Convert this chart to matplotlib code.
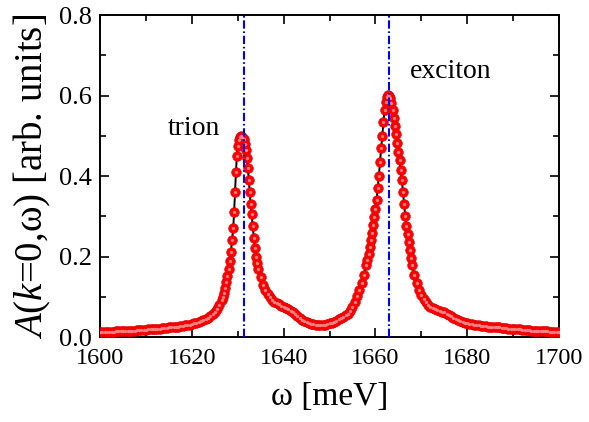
import matplotlib
matplotlib.use("Agg")
import matplotlib.pyplot as plt
from matplotlib.ticker import MultipleLocator, FormatStrFormatter

plt.rcParams["font.family"] = ["Liberation Serif", "DejaVu Serif"]
plt.rcParams["mathtext.fontset"] = "custom"
plt.rcParams["mathtext.rm"] = "Liberation Serif"
plt.rcParams["mathtext.it"] = "Liberation Serif:italic"

# spectral function (omega in meV, A in arb. units)
omega = [
    1600, 1600.5, 1601, 1601.5, 1602, 1602.5, 1603, 1603.5, 1604, 1604.5,
    1605, 1605.5, 1606, 1606.5, 1607, 1607.5, 1608, 1608.5, 1609, 1609.5,
    1610, 1610.5, 1611, 1611.5, 1612, 1612.5, 1613, 1613.5, 1614, 1614.5,
    1615, 1615.5, 1616, 1616.5, 1617, 1617.5, 1618, 1618.5, 1619, 1619.5,
    1620, 1620.5, 1621, 1621.5, 1622, 1622.5, 1623, 1623.5, 1624, 1624.5,
    1625, 1625.5, 1626, 1626.5, 1626.75,
    1627.0, 1627.25, 1627.5, 1627.75, 1628.0, 1628.25, 1628.5, 1628.75,
    1629.0, 1629.2, 1629.4, 1629.6, 1629.8, 1630.0, 1630.25, 1630.5, 1630.75,
    1631.0, 1631.25, 1631.5, 1631.75, 1632.0, 1632.2, 1632.4, 1632.6, 1632.8,
    1633.0, 1633.25, 1633.5, 1633.75, 1634.0, 1634.25, 1634.5,
    1635.0, 1635.5, 1636.0, 1636.5, 1637.0, 1637.5, 1638.0, 1638.5, 1639.0,
    1639.5, 1640.0, 1640.5, 1641.0, 1641.5, 1642.0, 1642.5, 1643.0, 1643.5,
    1644.0, 1644.5, 1645.0, 1645.5, 1646.0, 1646.5, 1647.0, 1647.5, 1648.0,
    1648.5, 1649.0, 1649.5, 1650.0, 1650.5, 1651.0, 1651.5, 1652.0, 1652.5,
    1653.0, 1653.5, 1654.0, 1654.5, 1655.0, 1655.5, 1656.0, 1656.5, 1657.0,
    1657.5, 1658.0, 1658.25, 1658.5, 1658.75, 1659.0, 1659.25, 1659.5, 1659.75,
    1660.0, 1660.25, 1660.5, 1660.75, 1661.0, 1661.25, 1661.5, 1661.75,
    1662.0, 1662.25, 1662.5, 1662.75, 1663.0, 1663.25, 1663.5, 1663.75,
    1664.0, 1664.25, 1664.5, 1664.75, 1665.0, 1665.25, 1665.5, 1665.75,
    1666.0, 1666.25, 1666.5, 1666.75, 1667.0, 1667.25, 1667.5, 1667.75,
    1668.0, 1668.5, 1669.0, 1669.5, 1670.0, 1670.5, 1671.0, 1671.5, 1672.0,
    1672.5, 1673.0, 1673.5, 1674.0, 1674.5, 1675.0, 1675.5, 1676.0, 1676.5,
    1677.0, 1677.5, 1678.0, 1678.5, 1679.0, 1679.5, 1680.0, 1680.5, 1681.0,
    1681.5, 1682.0, 1682.5, 1683.0, 1683.5, 1684.0, 1684.5, 1685.0, 1685.5,
    1686.0, 1686.5, 1687.0, 1687.5, 1688.0, 1688.5, 1689.0, 1689.5, 1690.0,
    1690.5, 1691.0, 1691.5, 1692.0, 1692.5, 1693.0, 1693.5, 1694.0, 1694.5,
    1695.0, 1695.5, 1696.0, 1696.5, 1697.0, 1697.5, 1698.0, 1698.5, 1699.0,
    1699.5, 1700.0,
]
spectral = [
    0.012, 0.012, 0.012, 0.013, 0.013, 0.013, 0.013, 0.014, 0.014, 0.014,
    0.014, 0.015, 0.015, 0.015, 0.016, 0.016, 0.017, 0.017, 0.017, 0.018,
    0.018, 0.019, 0.019, 0.020, 0.020, 0.021, 0.021, 0.022, 0.022, 0.023,
    0.024, 0.024, 0.025, 0.026, 0.026, 0.027, 0.028, 0.029, 0.030, 0.031,
    0.033, 0.034, 0.036, 0.038, 0.040, 0.042, 0.045, 0.048, 0.052, 0.057,
    0.062, 0.069, 0.079, 0.092, 0.100,
    0.110, 0.122, 0.136, 0.152, 0.170, 0.190, 0.212, 0.240,
    0.270, 0.310, 0.360, 0.410, 0.450, 0.475, 0.490, 0.498, 0.500,
    0.498, 0.492, 0.480, 0.465, 0.445, 0.420, 0.390, 0.360, 0.330,
    0.305, 0.275, 0.245, 0.220, 0.200, 0.185, 0.170,
    0.148, 0.130, 0.118, 0.108, 0.100, 0.093, 0.088, 0.084, 0.081,
    0.078, 0.075, 0.072, 0.069, 0.065, 0.061, 0.056, 0.052, 0.047,
    0.043, 0.040, 0.037, 0.035, 0.033, 0.032, 0.031, 0.0305, 0.030,
    0.030, 0.031, 0.032, 0.034, 0.036, 0.038, 0.041, 0.044, 0.047,
    0.050, 0.054, 0.058, 0.065, 0.075, 0.088, 0.102, 0.118, 0.135,
    0.155, 0.178, 0.192, 0.207, 0.223, 0.240, 0.258, 0.278, 0.298,
    0.318, 0.340, 0.370, 0.400, 0.435, 0.470, 0.500, 0.535,
    0.565, 0.585, 0.597, 0.602, 0.600, 0.594, 0.582, 0.565,
    0.545, 0.525, 0.505, 0.483, 0.460, 0.440, 0.415, 0.390,
    0.360, 0.330, 0.300, 0.275, 0.255, 0.235, 0.215, 0.197,
    0.180, 0.155, 0.135, 0.118, 0.104, 0.094, 0.086, 0.080, 0.075,
    0.072, 0.069, 0.067, 0.065, 0.063, 0.061, 0.058, 0.055, 0.051,
    0.048, 0.045, 0.042, 0.040, 0.038, 0.036, 0.035, 0.033, 0.032,
    0.031, 0.030, 0.029, 0.028, 0.028, 0.027, 0.026, 0.026, 0.025,
    0.025, 0.024, 0.024, 0.023, 0.023, 0.022, 0.021, 0.021, 0.020,
    0.020, 0.019, 0.019, 0.018, 0.018, 0.017, 0.017, 0.016, 0.016,
    0.016, 0.015, 0.015, 0.015, 0.014, 0.014, 0.013, 0.013, 0.013,
    0.012, 0.012,
]

# peak positions marked by dash-dot lines
peak_pos = [1631.3, 1663.0]
peak_names = ["trion", "exciton"]
label_pos = [(1614.8, 0.502), (1667.4, 0.644)]

fig = plt.figure(figsize=(5.89, 4.22), dpi=100)
ax = fig.add_axes([0.170, 0.2014, 0.779, 0.763])

ax.plot(omega, spectral, "-", color="black", lw=1.4, zorder=2)
ax.plot(omega, spectral, "o", ls="none", ms=7.0, mfc="#ff0000",
        mec="#e00000", mew=0.4, zorder=3)
ax.plot(omega, spectral, "o", ls="none", ms=2.4, mfc="#ff8080",
        mec="none", zorder=4)

for x0 in peak_pos:
    ax.axvline(x0, color="#0000ff", lw=1.5, ls=(0, (4, 1.3, 0.8, 1.3)), zorder=5)

for name, (tx, ty) in zip(peak_names, label_pos):
    ax.text(tx, ty, name, fontsize=20, ha="left", va="baseline")

ax.set_xlim(1600, 1700)
ax.set_ylim(0, 0.8)
ax.xaxis.set_major_locator(MultipleLocator(20))
ax.xaxis.set_minor_locator(MultipleLocator(10))
ax.yaxis.set_major_locator(MultipleLocator(0.2))
ax.yaxis.set_minor_locator(MultipleLocator(0.1))
ax.yaxis.set_major_formatter(FormatStrFormatter("%.1f"))

ax.tick_params(which="both", direction="in", top=True, right=True, width=1.2)
ax.tick_params(which="major", length=6.5)
ax.tick_params(which="minor", length=4)
ax.tick_params(axis="x", labelsize=17.5, pad=8)
ax.tick_params(axis="y", labelsize=19, pad=6)
for sp in ax.spines.values():
    sp.set_linewidth(1.4)

ax.set_xlabel("ω [meV]", fontsize=24, labelpad=9)
ax.set_ylabel(r"$A$($k$=0,ω) [arb. units]", fontsize=28, labelpad=4)

fig.savefig("out.png", dpi=100)
